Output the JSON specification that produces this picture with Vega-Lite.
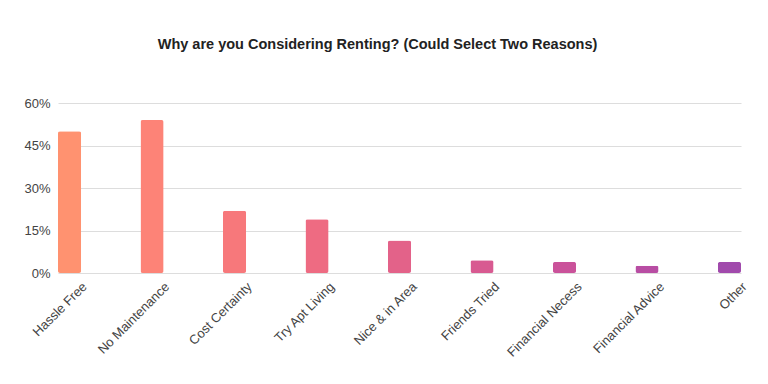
{
  "$schema": "https://vega.github.io/schema/vega-lite/v6.json",
  "width": 683,
  "height": 170,
  "autosize": {"type": "none"},
  "padding": {"left": 58, "top": 103, "right": 27, "bottom": 111},
  "background": "white",
  "title": {
    "text": "Why are you Considering Renting? (Could Select Two Reasons)",
    "font": "Liberation Sans",
    "fontSize": 14.5,
    "fontWeight": "bold",
    "color": "#222222",
    "anchor": "middle",
    "dx": -22,
    "offset": 45
  },
  "data": {
    "values": [
      {"reason": "Hassle Free", "pct": 0.50, "color": "#ff9270"},
      {"reason": "No Maintenance", "pct": 0.54, "color": "#fd8377"},
      {"reason": "Cost Certainty", "pct": 0.22, "color": "#f7787b"},
      {"reason": "Try Apt Living", "pct": 0.19, "color": "#ee6b82"},
      {"reason": "Nice & in Area", "pct": 0.115, "color": "#e36289"},
      {"reason": "Friends Tried", "pct": 0.045, "color": "#d85a91"},
      {"reason": "Financial Necess", "pct": 0.039, "color": "#ca529a"},
      {"reason": "Financial Advice", "pct": 0.026, "color": "#b84da3"},
      {"reason": "Other", "pct": 0.039, "color": "#a14aac"}
    ]
  },
  "mark": {"type": "bar", "cornerRadius": 2},
  "encoding": {
    "x": {
      "field": "reason",
      "type": "nominal",
      "sort": null,
      "scale": {"paddingInner": 0.72, "paddingOuter": 0},
      "axis": {
        "title": null,
        "labelAngle": -45,
        "labelAlign": "right",
        "labelBaseline": "top",
        "labelFont": "Liberation Sans",
        "labelFontSize": 13,
        "labelColor": "#444444",
        "labelPadding": 7,
        "labelOffset": 11,
        "ticks": false,
        "domain": false
      }
    },
    "y": {
      "field": "pct",
      "type": "quantitative",
      "scale": {"domain": [0, 0.6]},
      "axis": {
        "title": null,
        "values": [0, 0.15, 0.3, 0.45, 0.6],
        "format": ".0%",
        "labelFont": "Liberation Sans",
        "labelFontSize": 13,
        "labelColor": "#444444",
        "labelPadding": 8,
        "ticks": false,
        "domain": false,
        "gridColor": "#dddddd",
        "gridWidth": 1.2
      }
    },
    "color": {"field": "color", "type": "nominal", "scale": null}
  },
  "config": {"view": {"stroke": null}}
}
